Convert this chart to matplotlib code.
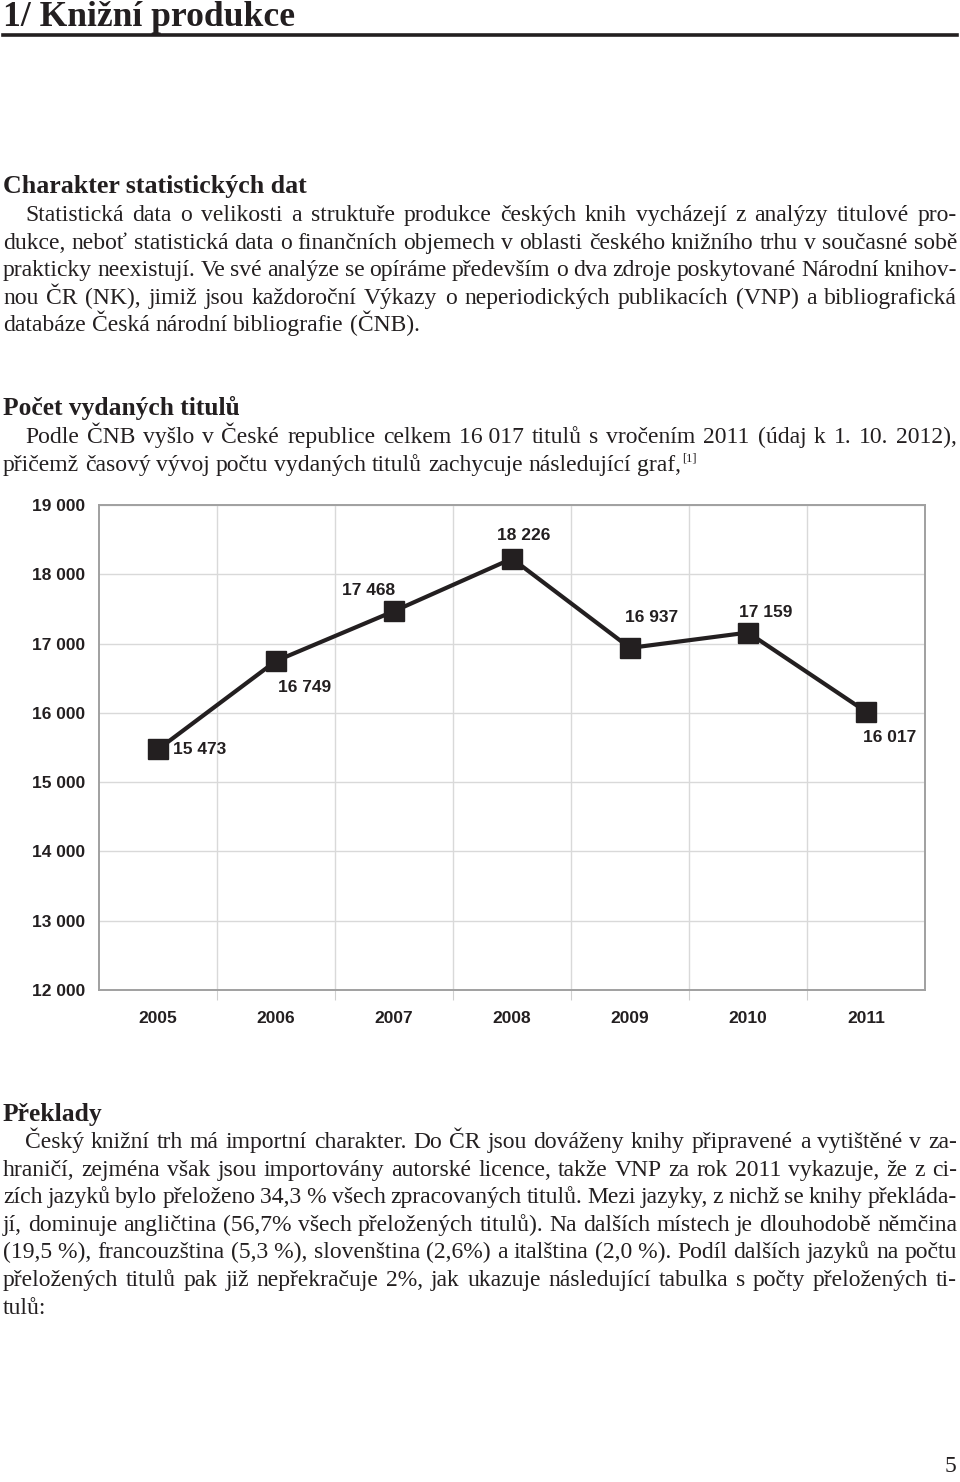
import matplotlib
matplotlib.use('Agg')
import matplotlib.pyplot as plt
from matplotlib.ticker import FixedLocator

# ---------------- data ----------------
years = ['2005', '2006', '2007', '2008', '2009', '2010', '2011']
titles = [15473, 16749, 17468, 18226, 16937, 17159, 16017]
value_labels = ['15 473', '16 749', '17 468', '18 226', '16 937', '17 159', '16 017']
y_ticks = [12000, 13000, 14000, 15000, 16000, 17000, 18000, 19000]
y_tick_labels = ['12 000', '13 000', '14 000', '15 000', '16 000', '17 000', '18 000', '19 000']

page_title = '1/ Knižní produkce'
heading1 = 'Charakter statistických dat'
para1 = [
    'Statistická data o velikosti a struktuře produkce českých knih vycházejí z analýzy titulové pro-',
    'dukce, neboť statistická data o finančních objemech v oblasti českého knižního trhu v současné sobě',
    'prakticky neexistují. Ve své analýze se opíráme především o dva zdroje poskytované Národní knihov-',
    'nou ČR (NK), jimiž jsou každoroční Výkazy o neperiodických publikacích (VNP) a bibliografická',
    'databáze Česká národní bibliografie (ČNB).',
]
heading2 = 'Počet vydaných titulů'
para2 = [
    'Podle ČNB vyšlo v České republice celkem 16\u00a0017 titulů s vročením 2011 (údaj k 1. 10. 2012),',
    'přičemž časový vývoj počtu vydaných titulů zachycuje následující graf,',
]
footnote_mark = '[1]'
heading3 = 'Překlady'
para3 = [
    'Český knižní trh má importní charakter. Do ČR jsou dováženy knihy připravené a vytištěné v za-',
    'hraničí, zejména však jsou importovány autorské licence, takže VNP za rok 2011 vykazuje, že z ci-',
    'zích jazyků bylo přeloženo 34,3\u00a0% všech zpracovaných titulů. Mezi jazyky, z nichž se knihy překláda-',
    'jí, dominuje angličtina (56,7% všech přeložených titulů). Na dalších místech je dlouhodobě němčina',
    '(19,5\u00a0%), francouzština (5,3\u00a0%), slovenština (2,6%) a italština (2,0\u00a0%). Podíl dalších jazyků na počtu',
    'přeložených titulů pak již nepřekračuje 2%, jak ukazuje následující tabulka s počty přeložených ti-',
    'tulů:',
]
page_number = '5'

# ---------------- figure ----------------
W, H = 960, 1482
fig = plt.figure(figsize=(W / 100, H / 100), dpi=100)
fig.patch.set_facecolor('white')
renderer = fig.canvas.get_renderer()

SERIF = ['Liberation Serif', 'DejaVu Serif']
SANS = ['Liberation Sans', 'DejaVu Sans']
TXT = '#231f20'
BODY_PT = 17.0


def fx(x):
    return x / W


def fy(y):
    return 1 - y / H


def put(x, y, s, size, weight='normal', ha='left', family=SERIF):
    return fig.text(fx(x), fy(y), s, fontsize=size, fontweight=weight, ha=ha,
                    va='baseline', family=family, color=TXT)


def width(t):
    return t.get_window_extent(renderer=renderer).width


def measure(s, size, weight='normal'):
    t = put(100, 700, s, size, weight)
    w = width(t)
    t.remove()
    return w


def fit_heading(x, y, s, target_w, weight='bold', base=18):
    size = base * target_w / measure(s, base, weight)
    return put(x, y, s, size, weight)


SPACE = measure('a a', BODY_PT) - measure('aa', BODY_PT)


def justify(line, x0, x1, y, size=BODY_PT, just=True):
    words = line.split(' ')
    ws = [measure(w, size) for w in words]
    if just and len(words) > 1:
        gap = (x1 - x0 - sum(ws)) / (len(words) - 1)
    else:
        gap = SPACE
    x = x0
    for w, wd in zip(words, ws):
        put(x, y, w, size)
        x += wd + gap
    return x - gap


# title + rule
fit_heading(3, 26, page_title, 292, base=26)
fig.add_artist(plt.Line2D([fx(3), fx(957)], [fy(35), fy(35)], color=TXT, lw=2.6,
                          transform=fig.transFigure))

# section 1
fit_heading(3, 193, heading1, 302)
LS = 27.6
for i, line in enumerate(para1):
    x0 = 25 if i == 0 else 3
    justify(line, x0, 957, 221 + LS * i, just=(i < len(para1) - 1))

# section 2
fit_heading(3, 415, heading2, 237)
justify(para2[0], 25, 957, 443)
xe = justify(para2[1], 3, 957, 443 + LS, just=False)
fig.text(fx(xe + 1), fy(443 + LS - 9), footnote_mark, fontsize=9, family=SERIF,
         color=TXT, va='baseline', ha='left')

# section 3
fit_heading(3, 1121, heading3, 100)
for i, line in enumerate(para3):
    x0 = 25 if i == 0 else 3
    justify(line, x0, 957, 1148 + LS * i, just=(i < len(para3) - 1))

put(956, 1472, page_number, BODY_PT, ha='right')

# ---------------- chart ----------------
L, R, T, B = 99, 925, 505, 990
ax = fig.add_axes([fx(L), fy(B), (R - L) / W, (B - T) / H])
x = list(range(len(years)))
ax.plot(x, titles, color='#231f20', lw=3.0, marker='s', markersize=14.5,
        markerfacecolor='#231f20', markeredgecolor='#231f20', zorder=3, clip_on=False)
ax.set_xlim(-0.5, len(years) - 0.5)
ax.set_ylim(y_ticks[0], y_ticks[-1])

ax.set_yticks(y_ticks)
ax.set_yticklabels(y_tick_labels)
ax.set_xticks(x)
ax.set_xticklabels(years)
ax.xaxis.set_minor_locator(FixedLocator([i - 0.5 for i in range(1, len(years))]))
for lab in ax.get_xticklabels() + ax.get_yticklabels():
    lab.set_family(SANS)
    lab.set_fontweight('bold')
    lab.set_fontsize(12.5)
    lab.set_color('#231f20')
ax.tick_params(axis='x', which='major', length=0, pad=15)
ax.tick_params(axis='x', which='minor', length=7, width=0.8, color='#d0d0d0', direction='out')
ax.tick_params(axis='y', which='major', length=0, pad=10)

ax.grid(True, axis='y', which='major', color='#d9d9d9', lw=1.0)
ax.grid(True, axis='x', which='minor', color='#d9d9d9', lw=1.0)
ax.grid(False, axis='x', which='major')
ax.set_axisbelow(True)
for sp in ax.spines.values():
    sp.set_color('#a0a0a0')
    sp.set_linewidth(1.4)

offsets = [(15, 0, 'left'), (2, -27, 'left'), (1, 21, 'right'), (12, 23, 'center'),
           (22, 30, 'center'), (18, 20, 'center'), (24, -26, 'center')]
for xi, v, lab, (dx, dy, ha) in zip(x, titles, value_labels, offsets):
    ax.annotate(lab, (xi, v), xytext=(dx, dy), textcoords='offset pixels',
                ha=ha, va='center', fontsize=12.5, fontweight='bold',
                family=SANS, color='#231f20', zorder=4)

fig.savefig('out.png', dpi=100, facecolor='white')
